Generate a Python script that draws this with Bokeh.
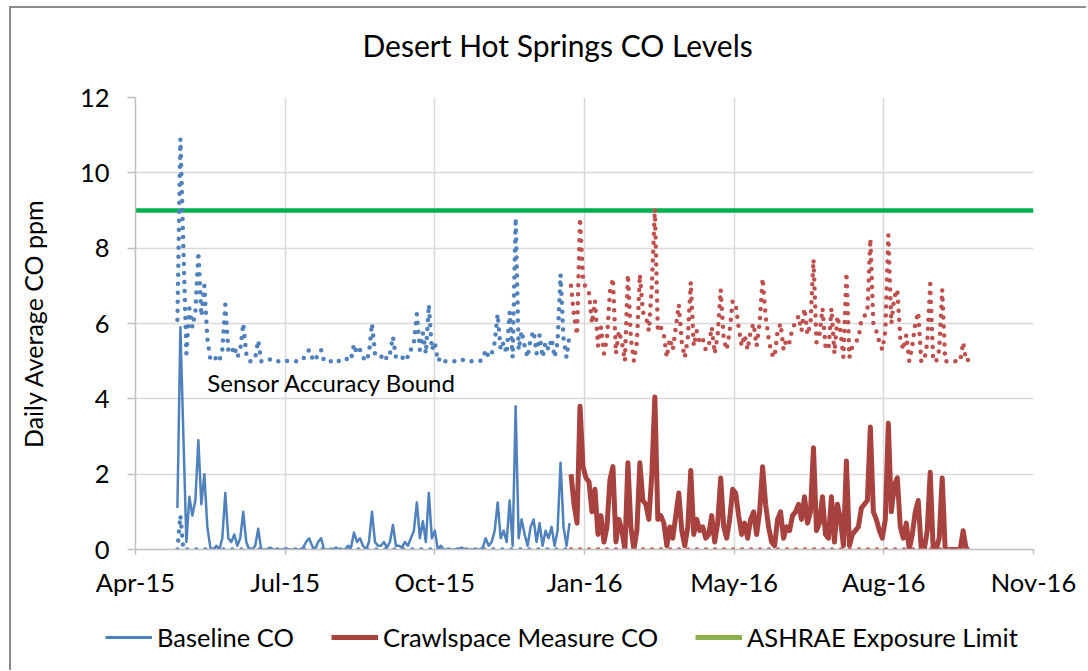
import numpy as np
import pandas as pd
from bokeh.plotting import figure
from bokeh.layouts import column
from bokeh.models import (Range1d, FixedTicker, DatetimeTickFormatter, Legend,
                          LegendItem, Label, Title)
from bokeh.embed import file_html
from bokeh.resources import INLINE

# ---------------- data ----------------
title_text = "Desert Hot Springs CO Levels"
y_label = "Daily Average CO ppm"
annotation_text = "Sensor Accuracy Bound"
series_names = ["Baseline CO", "Crawlspace Measure CO", "ASHRAE Exposure Limit"]

x_tick_dates = ["2015-04-01", "2015-07-10", "2015-10-18", "2016-01-26",
                "2016-05-05", "2016-08-13", "2016-11-21"]
x_tick_labels = ["Apr-15", "Jul-15", "Oct-15", "Jan-16", "May-16", "Aug-16", "Nov-16"]
y_ticks = [0, 2, 4, 6, 8, 10, 12]

sample_step_days = 2

baseline_start = "2015-04-29"
baseline_co = [
    1.1, 5.9, 3.0, 0.2, 1.4, 0.9, 1.3, 2.9, 1.2, 2.0,
    0.6, 0.05, 0.0, 0.1, 0.0, 0.3, 1.5, 0.3, 0.2, 0.4,
    0.1, 0.3, 1.0, 0.2, 0.0, 0.0, 0.1, 0.55, 0.0, 0.0,
    0.0, 0.05, 0.0, 0.0, 0.0, 0.0, 0.02, 0.0, 0.0, 0.0,
    0.0, 0.0, 0.05, 0.2, 0.3, 0.1, 0.0, 0.2, 0.3, 0.0,
    0.0, 0.0, 0.0, 0.05, 0.0, 0.0, 0.0, 0.1, 0.05, 0.45,
    0.2, 0.3, 0.1, 0.0, 0.2, 1.0, 0.2, 0.1, 0.1, 0.2,
    0.05, 0.2, 0.65, 0.1, 0.1, 0.05, 0.2, 0.1, 0.3, 0.5,
    1.25, 0.3, 0.75, 0.2, 1.5, 0.3, 0.5, 0.0, 0.1, 0.0,
    0.0, 0.0, 0.0, 0.0, 0.02, 0.05, 0.0, 0.0, 0.0, 0.0,
    0.0, 0.0, 0.05, 0.3, 0.1, 0.2, 0.5, 1.25, 0.3, 0.5,
    0.2, 1.3, 0.1, 3.8, 0.3, 0.8, 0.4, 0.1, 0.6, 0.8,
    0.2, 0.7, 0.1, 0.5, 0.3, 0.6, 0.1, 0.5, 2.3, 0.6,
    0.1, 0.7,
]

crawl_start = "2016-01-17"
crawl_co = [
    2.0, 1.2, 0.7, 3.8, 2.2, 1.9, 1.8, 1.0, 1.6, 0.4,
    0.9, 0.2, 0.6, 1.85, 2.2, 0.2, 0.8, 0.5, 0.0, 2.3,
    0.6, 0.0, 0.5, 2.3, 1.3, 1.2, 0.8, 2.0, 4.05, 0.8,
    0.9, 0.7, 0.1, 0.6, 0.3, 0.9, 1.5, 0.5, 0.1, 0.6,
    2.1, 0.4, 0.8, 0.5, 0.6, 0.3, 0.4, 0.9, 0.2, 0.7,
    1.9, 0.6, 0.3, 0.8, 1.6, 1.5, 0.9, 0.4, 0.7, 0.3,
    0.8, 1.0, 0.4, 1.0, 2.2, 1.2, 0.6, 0.2, 0.1, 0.8,
    1.0, 0.3, 0.6, 0.5, 0.9, 1.0, 1.2, 0.8, 1.4, 0.7,
    1.0, 2.7, 0.5, 0.7, 1.4, 0.4, 0.3, 1.4, 0.2, 1.2,
    0.8, 0.1, 2.35, 0.1, 0.4, 0.5, 0.6, 1.1, 1.2, 1.3,
    3.25, 1.0, 0.8, 0.5, 0.3, 0.8, 3.35, 1.0, 1.7, 1.9,
    0.6, 0.3, 0.7, 0.0, 0.4, 1.0, 1.3, 0.0, 0.0, 0.5,
    2.05, 0.0, 0.0, 0.3, 1.9, 0.0, 0.0, 0.0, 0.0, 0.0,
    0.0, 0.5, 0.0, 0.05,
]

ashrae_limit = 9.0
sensor_accuracy = 5.0  # ppm band drawn dotted around each series

x_min, x_max = "2015-04-01", "2016-11-21"
y_min, y_max = 0, 12
annotation_pos = ("2015-05-19", 4.44)

# ---------------- styling ----------------
FONT = "Lato"
BLUE = "#4F81BD"
RED_LINE = "#A8423F"
RED_DOT = "#C0504D"
GREEN = "#00B050"
GREEN_LEGEND = "#8DB04F"
GRID = "#D9D9D9"
AXIS = "#BFBFBF"
TEXT = "#000000"
W = 1075


def ms(d):
    return pd.Timestamp(d).value / 1e6


bx = pd.date_range(baseline_start, periods=len(baseline_co), freq=f"{sample_step_days}D")
cx = pd.date_range(crawl_start, periods=len(crawl_co), freq=f"{sample_step_days}D")
b = np.array(baseline_co)
c = np.array(crawl_co)

p = figure(width=W, height=591, x_axis_type="datetime",
           x_range=Range1d(ms(x_min), ms(x_max)), y_range=Range1d(y_min, y_max),
           output_backend="svg", toolbar_location=None, title=None,
           min_border_left=124, min_border_right=53, min_border_top=89,
           min_border_bottom=50)
p.frame_align = False
p.outline_line_color = None
p.background_fill_color = "white"
p.border_fill_color = "white"

tick_ms = [ms(d) for d in x_tick_dates]
p.xaxis.ticker = FixedTicker(ticks=tick_ms)
fmt = "%b-%y"
p.xaxis.formatter = DatetimeTickFormatter(microseconds=fmt, milliseconds=fmt, seconds=fmt,
                                          minsec=fmt, minutes=fmt, hourmin=fmt, hours=fmt,
                                          days=fmt, months=fmt, years=fmt)
p.xaxis.major_label_overrides = {t: lab for t, lab in zip(tick_ms, x_tick_labels)}
p.yaxis.ticker = FixedTicker(ticks=y_ticks)

for ax in (p.xaxis[0], p.yaxis[0]):
    ax.axis_line_color = AXIS
    ax.axis_line_width = 1.5
    ax.major_tick_line_color = AXIS
    ax.major_tick_line_width = 1.5
    ax.minor_tick_line_color = None
    ax.major_tick_in = 0
    ax.major_label_text_font = FONT
    ax.major_label_text_font_size = "25.5px"
    ax.major_label_text_color = TEXT
p.xaxis.major_tick_out = 5
p.xaxis.major_label_standoff = 12
p.yaxis.major_tick_out = 8
p.yaxis.major_label_standoff = 18
p.yaxis.axis_label = y_label
p.yaxis.axis_label_text_font = FONT
p.yaxis.axis_label_text_font_size = "25px"
p.yaxis.axis_label_text_font_style = "normal"
p.yaxis.axis_label_text_color = TEXT
p.yaxis.axis_label_standoff = 29

p.xgrid.ticker = FixedTicker(ticks=tick_ms)
for g in (p.xgrid[0], p.ygrid[0]):
    g.grid_line_color = GRID
    g.grid_line_width = 1.5

# ASHRAE limit line
ax_ends = [ms(x_min), ms(x_max)]
p.line(ax_ends, [ashrae_limit, ashrae_limit], line_color=GREEN, line_width=4.5)

# series
p.line(bx, b, line_color=BLUE, line_width=2.5, line_join="round")
p.line(bx, b + sensor_accuracy, line_color=BLUE, line_width=4.5, line_dash="0 9",
       line_cap="round")
p.line(bx, np.maximum(b - sensor_accuracy, 0), line_color=BLUE, line_width=4.5,
       line_dash="0 9", line_cap="round")
p.line(cx, c, line_color=RED_LINE, line_width=5, line_join="round")
p.line(cx, c + sensor_accuracy, line_color=RED_DOT, line_width=4.5, line_dash="0 9",
       line_cap="round")
p.line(cx, np.maximum(c - sensor_accuracy, 0), line_color=RED_DOT, line_width=4.5,
       line_dash="0 9", line_cap="round")

p.add_layout(Label(x=ms(annotation_pos[0]), y=annotation_pos[1], text=annotation_text,
                   text_font=FONT, text_font_size="24px", text_color=TEXT,
                   text_baseline="middle", text_align="left"))

# titles (spacer first so the main title sits higher)
p.add_layout(Title(text=" ", text_font_size="10px", standoff=21), "above")
p.add_layout(Title(text=title_text, align="left", offset=227, text_font=FONT,
                   text_font_size="30px", text_font_style="normal", text_color=TEXT,
                   vertical_align="middle", standoff=0), "above")

# ---------------- legend strip ----------------
lf = figure(width=W, height=71, output_backend="svg", toolbar_location=None,
            x_axis_location=None, y_axis_location=None, min_border=0,
            x_range=Range1d(0, 1), y_range=Range1d(0, 1))
lf.frame_align = False
lf.grid.visible = False
lf.outline_line_color = None
lf.background_fill_color = "white"
lf.border_fill_color = "white"
# swatch-only renderers, kept outside the strip's visible range
hidden_x, hidden_y = [0, 1], [-5, -5]
s_base = lf.line(hidden_x, hidden_y, line_color=BLUE, line_width=3)
s_crawl = lf.line(hidden_x, hidden_y, line_color=RED_LINE, line_width=5)
s_ashrae = lf.line(hidden_x, hidden_y, line_color=GREEN_LEGEND, line_width=5)
legend = Legend(items=[LegendItem(label=series_names[0], renderers=[s_base]),
                       LegendItem(label=series_names[1], renderers=[s_crawl]),
                       LegendItem(label=series_names[2], renderers=[s_ashrae])],
                orientation="horizontal", location=(94, 18), glyph_width=47,
                glyph_height=24, label_height=24, label_standoff=5, spacing=37,
                padding=0, margin=0, border_line_color=None, background_fill_alpha=0,
                label_text_font=FONT, label_text_font_size="25.5px",
                label_text_color=TEXT)
lf.add_layout(legend, "center")

layout = column(p, lf, spacing=0,
                styles={"margin-left": "9px", "margin-top": "6px",
                        "border-left": "2px solid #8C8C8C",
                        "border-top": "2px solid #8C8C8C"})

open("out.html", "w").write(file_html(layout, INLINE))
